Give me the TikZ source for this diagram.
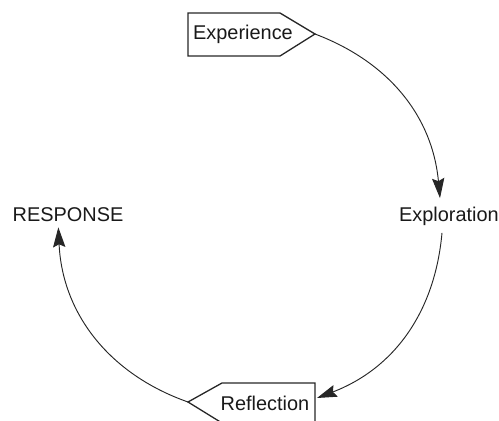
\documentclass[tikz,border=0pt]{standalone}
\usepackage{fontspec}
\setmainfont{Liberation Sans}
\usetikzlibrary{arrows.meta}
\tikzset{
  stage text/.style={font=\fontsize{17}{20}\selectfont, text=black!90, inner sep=2pt},
  tag box/.style={draw=black!85, line width=1.1pt, line join=miter},
  cycle arrow/.style={draw=black!85, line width=0.8pt, -{Stealth[length=17pt,width=10.5pt,inset=2.5pt]}},
}
\begin{document}
\begin{tikzpicture}[x=0.03cm,y=-0.03cm]
  \useasboundingbox (0,0) rectangle (499,421);
  % tag outlines
  \draw[tag box] (188,13) -- (280,13) -- (315,34) coordinate (exptip) -- (280,56) -- (188,56) -- cycle;
  \draw[tag box] (188,402) coordinate (refltip) -- (222,383) -- (315,383) -- (315,423) -- (222,423) -- cycle;
  \coordinate (reflin) at (317,398);
  % stages
  \node[stage text] (exp) at (243,34) {Experience};
  \node[stage text] (explo) at (449,216) {Exploration};
  \node[stage text] (refl) at (265,403) {Reflection};
  \node[stage text] (resp) at (68,215) {RESPONSE};
  % cycle
  \draw[cycle arrow] (exptip) to[bend left=32] ([xshift=-0.27cm,yshift=0.18cm]explo.north);
  \draw[cycle arrow] ([xshift=-0.21cm,yshift=-0.15cm]explo.south) to[bend left=32] (reflin);
  \draw[cycle arrow] (refltip) to[bend left=34] ([xshift=-0.29cm,yshift=-0.08cm]resp.south);
\end{tikzpicture}
\end{document}
